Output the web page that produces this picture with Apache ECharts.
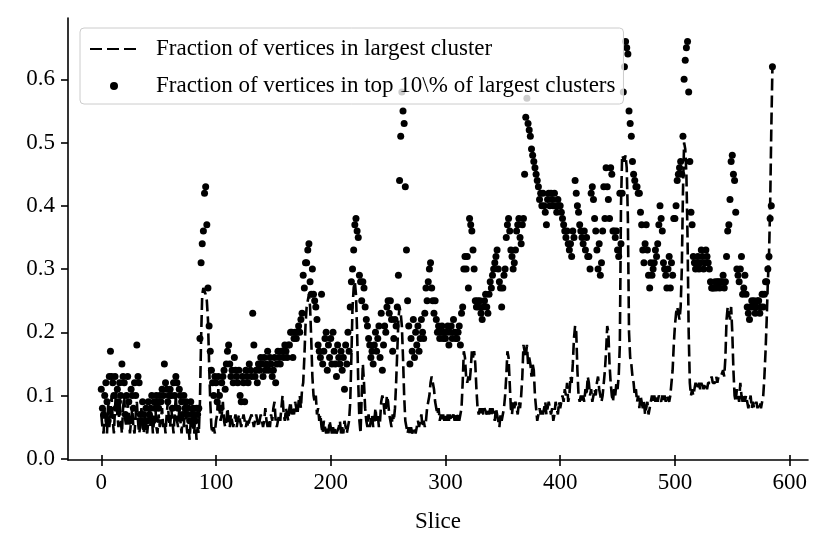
<!DOCTYPE html>
<html>
<head>
<meta charset="utf-8">
<script src="https://cdn.jsdelivr.net/npm/echarts@6/dist/echarts.min.js"></script>
<style>
html, body { margin: 0; padding: 0; background: #fff; }
#chart { width: 830px; height: 554px; }
</style>
</head>
<body>
<div id="chart"></div>
<script>
// fraction of vertices in the largest cluster, one value per slice (index = slice)
var largestFrac = [
  .07,.05,.04,.08,.06,.04,.09,.05,.07,.10,
  .06,.04,.08,.11,.07,.05,.09,.06,.04,.08,
  .10,.06,.05,.09,.07,.04,.06,.08,.05,.04,
  .07,.09,.06,.04,.05,.08,.06,.04,.07,.05,
  .04,.06,.08,.05,.07,.04,.06,.09,.05,.04,
  .07,.05,.06,.08,.05,.06,.04,.07,.09,.06,
  .05,.08,.06,.04,.07,.10,.06,.05,.08,.06,
  .04,.07,.05,.09,.06,.04,.05,.03,.06,.08,
  .05,.04,.07,.03,.05,.04,.09,.19,.26,.27,
  .27,.26,.25,.22,.15,.09,.05,.04,.05,.04,
  .06,.07,.11,.08,.06,.07,.09,.06,.05,.06,
  .08,.06,.05,.07,.06,.05,.06,.07,.05,.06,
  .07,.06,.05,.06,.07,.06,.05,.06,.05,.06,
  .06,.07,.06,.05,.06,.07,.06,.05,.06,.07,
  .06,.05,.06,.08,.06,.05,.06,.05,.07,.06,
  .08,.09,.06,.05,.06,.07,.06,.08,.10,.07,
  .06,.08,.07,.06,.08,.09,.07,.08,.07,.09,
  .08,.07,.09,.10,.08,.11,.12,.16,.21,.24,
  .25,.26,.24,.19,.13,.10,.09,.10,.07,.08,
  .06,.07,.05,.04,.06,.05,.04,.05,.04,.06,
  .05,.04,.05,.04,.05,.04,.04,.05,.06,.04,
  .05,.04,.06,.05,.04,.05,.06,.09,.16,.24,
  .27,.28,.26,.20,.12,.06,.04,.10,.15,.12,
  .08,.06,.05,.07,.05,.06,.07,.05,.06,.08,
  .06,.07,.05,.06,.09,.10,.09,.07,.08,.10,
  .09,.07,.06,.05,.07,.06,.08,.12,.17,.22,
  .24,.23,.21,.16,.10,.06,.05,.04,.05,.04,
  .05,.04,.04,.05,.04,.05,.06,.05,.06,.07,
  .05,.06,.05,.06,.08,.09,.10,.12,.13,.12,
  .11,.09,.08,.07,.08,.06,.07,.06,.07,.06,
  .07,.06,.07,.06,.07,.06,.06,.07,.06,.07,
  .06,.07,.06,.07,.08,.12,.17,.16,.13,.12,
  .13,.12,.14,.17,.16,.17,.15,.11,.08,.07,
  .08,.07,.08,.07,.08,.08,.07,.08,.07,.08,
  .07,.08,.07,.06,.08,.07,.06,.05,.07,.06,
  .07,.08,.10,.13,.17,.16,.12,.08,.07,.09,
  .08,.09,.08,.07,.09,.08,.10,.13,.18,.17,
  .16,.18,.15,.16,.15,.13,.15,.14,.10,.08,
  .06,.07,.08,.07,.08,.07,.08,.09,.07,.08,
  .09,.08,.07,.08,.06,.07,.09,.08,.07,.09,
  .08,.09,.10,.09,.11,.10,.12,.09,.10,.13,
  .12,.15,.19,.21,.20,.14,.10,.09,.10,.09,
  .10,.09,.11,.10,.13,.12,.10,.11,.09,.10,
  .11,.10,.12,.13,.11,.10,.09,.10,.12,.14,
  .17,.21,.20,.15,.12,.10,.09,.11,.10,.12,
  .11,.13,.18,.40,.48,.48,.47,.48,.46,.38,
  .20,.16,.15,.13,.12,.10,.11,.09,.10,.08,
  .10,.09,.08,.09,.07,.08,.09,.07,.08,.09,
  .10,.09,.10,.09,.10,.09,.10,.10,.09,.10,
  .09,.10,.09,.10,.10,.09,.10,.10,.14,.18,
  .21,.23,.24,.23,.22,.24,.30,.42,.50,.49,
  .45,.35,.20,.12,.10,.11,.10,.11,.12,.11,
  .11,.12,.11,.12,.12,.11,.12,.12,.11,.12,
  .12,.12,.13,.12,.12,.12,.13,.12,.13,.13,
  .13,.13,.14,.13,.16,.22,.24,.24,.22,.24,
  .20,.14,.10,.09,.11,.10,.09,.12,.10,.09,
  .10,.09,.10,.09,.08,.09,.10,.08,.09,.08,
  .08,.09,.08,.08,.09,.08,.08,.10,.13,.17,
  .22,.28,.32,.40,.52,.62
];

// fraction of vertices in top 10% of largest clusters
var top10Frac = [
  .11,.08,.07,.10,.12,.09,.06,.13,.17,.13,
  .12,.10,.13,.08,.11,.09,.12,.10,.15,.13,
  .12,.07,.10,.13,.09,.06,.11,.10,.08,.12,
  .10,.18,.13,.12,.07,.06,.09,.07,.05,.08,
  .06,.09,.07,.08,.10,.06,.09,.08,.10,.09,
  .08,.10,.09,.11,.10,.15,.12,.11,.09,.10,
  .11,.10,.08,.12,.10,.13,.12,.08,.11,.10,
  .09,.07,.10,.08,.09,.07,.08,.06,.09,.07,
  .08,.07,.06,.08,.07,.08,.19,.31,.34,.36,
  .42,.43,.37,.27,.21,.17,.14,.12,.10,.13,
  .12,.09,.13,.10,.08,.12,.13,.14,.11,.15,
  .17,.18,.15,.13,.14,.12,.16,.14,.13,.12,
  .14,.10,.09,.13,.12,.09,.14,.13,.12,.15,
  .14,.13,.23,.18,.13,.14,.12,.15,.14,.16,
  .15,.13,.16,.14,.15,.17,.14,.16,.15,.13,
  .14,.16,.12,.15,.17,.16,.15,.17,.17,.16,
  .18,.17,.16,.18,.18,.20,.20,.16,.19,.20,
  .19,.20,.21,.20,.22,.23,.29,.27,.31,.31,
  .33,.34,.28,.26,.30,.26,.25,.24,.22,.18,
  .17,.16,.26,.15,.17,.19,.20,.14,.18,.16,
  .19,.15,.20,.17,.15,.13,.18,.16,.15,.17,
  .14,.16,.11,.18,.15,.20,.17,.24,.28,.30,
  .33,.37,.38,.36,.35,.29,.28,.25,.28,.27,
  .24,.22,.21,.19,.18,.16,.17,.15,.18,.20,
  .17,.19,.21,.16,.23,.14,.18,.21,.20,.24,
  .25,.23,.25,.22,.17,.19,.22,.21,.24,.29,
  .44,.51,.58,.55,.53,.43,.33,.25,.21,.15,
  .19,.17,.22,.16,.20,.18,.21,.17,.19,.22,
  .20,.19,.23,.27,.25,.28,.30,.31,.27,.25,
  .23,.25,.22,.20,.21,.19,.20,.21,.19,.20,
  .19,.20,.21,.18,.20,.21,.19,.22,.20,.19,
  .19,.20,.21,.18,.23,.24,.30,.32,.30,.32,
  .27,.38,.37,.36,.33,.30,.25,.24,.25,.24,
  .25,.23,.22,.24,.25,.26,.24,.23,.26,.28,
  .27,.29,.30,.31,.32,.33,.30,.28,.27,.24,
  .27,.29,.30,.35,.37,.38,.36,.33,.32,.30,
  .31,.33,.36,.37,.38,.35,.34,.37,.38,.45,
  .54,.57,.53,.52,.51,.49,.48,.47,.46,.45,
  .44,.43,.41,.42,.40,.42,.40,.39,.37,.41,
  .42,.40,.42,.41,.40,.42,.40,.39,.41,.40,
  .40,.39,.38,.37,.36,.35,.36,.34,.33,.34,
  .32,.36,.35,.44,.42,.40,.39,.37,.36,.35,
  .34,.36,.33,.35,.32,.32,.30,.42,.43,.41,
  .38,.36,.33,.30,.34,.29,.31,.36,.43,.38,
  .46,.43,.41,.38,.46,.45,.36,.36,.35,.36,
  .33,.32,.42,.34,.42,.58,.62,.66,.65,.64,
  .55,.53,.51,.47,.45,.44,.43,.43,.42,.42,
  .39,.37,.33,.31,.34,.37,.33,.29,.27,.31,
  .29,.30,.31,.33,.32,.34,.37,.40,.38,.36,
  .31,.30,.29,.27,.30,.32,.27,.31,.29,.38,
  .38,.40,.44,.45,.46,.47,.45,.51,.60,.63,
  .65,.66,.58,.47,.39,.37,.32,.31,.30,.31,
  .32,.30,.31,.33,.32,.30,.31,.33,.32,.31,
  .30,.28,.27,.27,.27,.28,.27,.28,.28,.27,
  .28,.28,.29,.27,.28,.32,.36,.37,.41,.47,
  .48,.45,.44,.39,.30,.29,.28,.30,.32,.26,
  .27,.29,.26,.24,.23,.22,.24,.25,.24,.25,
  .23,.24,.25,.25,.23,.24,.26,.24,.26,.28,
  .28,.30,.32,.38,.40,.62
];

var xTicks = [0, 100, 200, 300, 400, 500, 600];
var yTicks = [0, 0.1, 0.2, 0.3, 0.4, 0.5, 0.6];

var FONT = 'Liberation Serif';
var FS = 23;

function toPairs(arr) {
    var out = [];
    for (var i = 0; i < arr.length; i++) out.push([i, arr[i]]);
    return out;
}

var myChart = echarts.init(document.getElementById('chart'), null, {renderer: 'canvas'});

var option = {
    animation: false,
    backgroundColor: '#fff',
    textStyle: {fontFamily: FONT},
    grid: {left: 68, right: 22, top: 18, bottom: 94},
    legend: {
        orient: 'vertical',
        left: 80, top: 28,
        padding: [9, 8, 6, 9],
        itemGap: 13,
        itemWidth: 48, itemHeight: 8,
        backgroundColor: 'rgba(255,255,255,0.8)',
        borderColor: '#cccccc', borderWidth: 1, borderRadius: 4,
        textStyle: {fontFamily: FONT, fontSize: FS, color: '#000', lineHeight: 24, padding: [0, 0, 0, 13]},
        data: [
            {name: 'Fraction of vertices in largest cluster', itemStyle: {opacity: 0}},
            {name: 'Fraction of vertices in top 10\\% of largest clusters', icon: 'circle'}
        ]
    },
    xAxis: [
        {
            type: 'value', min: -29, max: 616,
            name: 'Slice', nameLocation: 'middle', nameGap: 50,
            nameTextStyle: {fontFamily: FONT, fontSize: FS, color: '#000'},
            splitLine: {show: false},
            axisLine: {onZero: false, lineStyle: {color: '#000', width: 1.6}},
            axisTick: {customValues: xTicks, length: 6, lineStyle: {color: '#000', width: 1.6}},
            axisLabel: {customValues: xTicks, margin: 11, fontFamily: FONT, fontSize: FS, color: '#000'}
        },
        {
            // same scale, only for the inner half of the x ticks
            type: 'value', min: -29, max: 616, position: 'bottom',
            splitLine: {show: false},
            axisLine: {show: false, onZero: false},
            axisLabel: {show: false},
            axisTick: {customValues: xTicks, inside: true, length: 5, lineStyle: {color: '#000', width: 1.6}}
        }
    ],
    yAxis: {
        type: 'value', min: -0.002, max: 0.697,
        splitLine: {show: false},
        axisLine: {show: true, onZero: false, lineStyle: {color: '#000', width: 1.6}},
        axisTick: {show: true, customValues: yTicks, length: 7, lineStyle: {color: '#000', width: 1.6}},
        axisLabel: {
            customValues: yTicks, margin: 13, fontFamily: FONT, fontSize: FS, color: '#000',
            formatter: function (v) { return v.toFixed(1); }
        }
    },
    series: [
        {
            name: 'Fraction of vertices in largest cluster',
            type: 'line',
            data: toPairs(largestFrac),
            showSymbol: false, symbol: 'none',
            lineStyle: {color: '#000', width: 2.6, type: [12, 5]},
            itemStyle: {color: '#000'},
            z: 2
        },
        {
            name: 'Fraction of vertices in top 10\\% of largest clusters',
            type: 'scatter',
            data: toPairs(top10Frac),
            symbolSize: 7,
            itemStyle: {color: '#000', opacity: 1},
            z: 3
        }
    ]
};

myChart.setOption(option);
</script>
</body>
</html>
